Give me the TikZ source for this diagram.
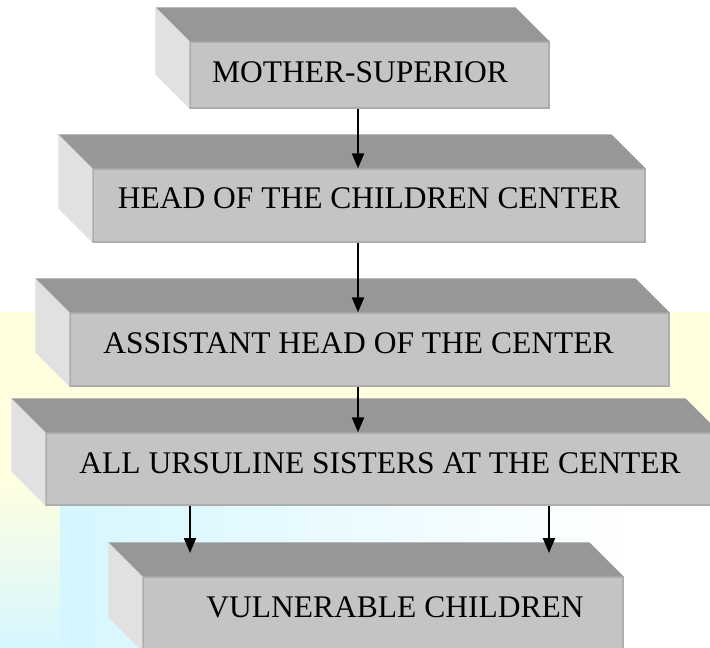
\documentclass[tikz,border=0pt]{standalone}
\usepackage{fontspec}
\setmainfont{Liberation Serif}
\usetikzlibrary{arrows.meta, positioning, calc}
\definecolor{slabfront}{HTML}{C4C4C4}
\definecolor{slabtop}{HTML}{979797}
\definecolor{slabside}{HTML}{E1E1E1}
\definecolor{slabedge}{HTML}{ADADAD}
\definecolor{bgyellow}{HTML}{FFFFDF}
\definecolor{bgcyan}{HTML}{D6F6FF}
\tikzset{
  slab/.style={rectangle, fill=slabfront, draw=slabedge, line width=1.2pt, inner sep=0pt},
  slabtop/.style={fill=slabtop},
  slabside/.style={fill=slabside},
  slabtext/.style={inner sep=0pt, font=\fontsize{31.5pt}{36pt}\selectfont},
  down/.style={-{Triangle[length=15pt, width=12pt]}, line width=2.2pt, black},
}

\begin{document}
\begin{tikzpicture}[x=1pt, y=-1pt]
    \clip (0,0) rectangle (710,648);
    % background of the slide
    \fill[white] (0,0) rectangle (710,648);
    \fill[bgyellow] (0,312) rectangle (710,478);
    \shade[top color=bgyellow, bottom color=white] (0,478) rectangle (710,500);
    \shade[left color=bgcyan, right color=white] (60,500) rectangle (640,648);
    \shade[top color=bgyellow, bottom color=bgcyan] (0,478) rectangle (60,648);
    % front faces
    \node[slab, minimum width=359pt, minimum height=66pt] (mother) at (369.5,75) {};
    \node[slab, minimum width=552pt, minimum height=73pt] (head) at (369,205.5) {};
    \node[slab, minimum width=599pt, minimum height=73pt] (assist) at (369.5,349.5) {};
    \node[slab, minimum width=673pt, minimum height=72pt] (sisters) at (382.5,469) {};
    \node[slab, minimum width=480pt, minimum height=74pt] (kids) at (383,614) {};
    % top and left faces
    \foreach \b in {mother, head, assist, sisters, kids} {
      \fill[slabtop] (\b.north west) -- ++(-34,-34) -- ($(\b.north east)+(-34,-34)$) -- (\b.north east) -- cycle;
      \fill[slabside] (\b.north west) -- ++(-34,-34) -- ($(\b.south west)+(-34,-34)$) -- (\b.south west) -- cycle;
    }
    \node[slabtext] (mothertxt) at (360,72) {MOTHER-SUPERIOR};
    \node[slabtext] (headtxt) at (369,198.5) {HEAD OF THE CHILDREN CENTER};
    \node[slabtext] (assisttxt) at (358.5,343.5) {ASSISTANT HEAD OF THE CENTER};
    \node[slabtext] (sisterstxt) at (380,463) {ALL URSULINE SISTERS AT THE CENTER};
    \node[slabtext] (kidstxt) at (395,607) {VULNERABLE CHILDREN};
    \coordinate (spine) at (358,0);
    \coordinate (dropL) at (190,553);
    \coordinate (dropR) at (549,553);
    \draw[down] (mother.south -| spine) -- (head.north -| spine);
    \draw[down] (head.south -| spine) -- (assist.north -| spine);
    \draw[down] (assist.south -| spine) -- (sisters.north -| spine);
    \draw[down] (sisters.south -| dropL) -- (dropL);
    \draw[down] (sisters.south -| dropR) -- (dropR);
  \end{tikzpicture}
\end{document}
